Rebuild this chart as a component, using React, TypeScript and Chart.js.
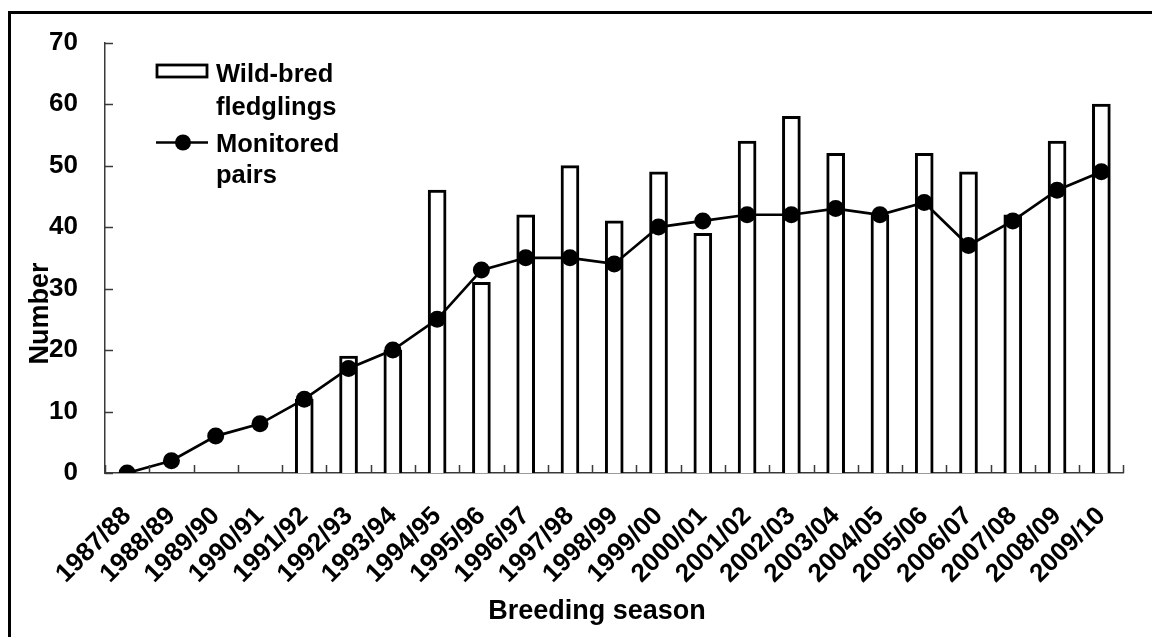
import React, { useEffect, useRef } from 'react';
import { Chart, registerables } from 'chart.js';

Chart.register(...registerables);

const seasons = [
  '1987/88', '1988/89', '1989/90', '1990/91', '1991/92', '1992/93', '1993/94', '1994/95',
  '1995/96', '1996/97', '1997/98', '1998/99', '1999/00', '2000/01', '2001/02', '2002/03',
  '2003/04', '2004/05', '2005/06', '2006/07', '2007/08', '2008/09', '2009/10',
];

const wildBredFledglings = [
  null, null, null, null, 12, 19, 20, 46, 31, 42, 50, 41, 49, 39, 54, 58, 52, 42, 52, 49, 42, 54, 60,
];

const monitoredPairs = [
  0, 2, 6, 8, 12, 17, 20, 25, 33, 35, 35, 34, 40, 41, 42, 42, 43, 42, 44, 37, 41, 46, 49,
];

const yMin = 0;
const yMax = 70;
const yStep = 10;

const xTitle = 'Breeding season';
const yTitle = 'Number';
const barLegendLines = ['Wild-bred', 'fledglings'];
const lineLegendLines = ['Monitored', 'pairs'];

const FONT = '"Liberation Sans", Arial, Helvetica, sans-serif';
const AXIS_COLOR = '#3a3a3a';

const decorPlugin = {
  id: 'decor',
  afterDraw(chart: any) {
    const ctx = chart.ctx as CanvasRenderingContext2D;
    const xs = chart.scales.x;
    const ys = chart.scales.y;
    const area = chart.chartArea;
    ctx.save();

    // inward tick marks
    ctx.strokeStyle = AXIS_COLOR;
    ctx.lineWidth = 1.5;
    ctx.beginPath();
    for (let v = yMin; v <= yMax; v += yStep) {
      const py = Math.round(ys.getPixelForValue(v)) + 0.5;
      ctx.moveTo(area.left, py);
      ctx.lineTo(area.left + 8, py);
    }
    const n = seasons.length;
    const half = (xs.getPixelForValue(1) - xs.getPixelForValue(0)) / 2;
    for (let i = 0; i <= n; i++) {
      const px = Math.round(xs.getPixelForValue(i) - half) + 0.5;
      ctx.moveTo(px, area.bottom);
      ctx.lineTo(px, area.bottom - 8);
    }
    ctx.stroke();

    // axis titles
    ctx.fillStyle = '#000';
    ctx.font = `bold 27px ${FONT}`;
    ctx.textAlign = 'center';
    ctx.textBaseline = 'alphabetic';
    ctx.fillText(xTitle, 597, 619);
    ctx.save();
    ctx.translate(47.5, 313.5);
    ctx.rotate(-Math.PI / 2);
    ctx.fillText(yTitle, 0, 0);
    ctx.restore();

    // legend
    ctx.strokeStyle = '#000';
    ctx.fillStyle = '#fff';
    ctx.lineWidth = 2.8;
    ctx.fillRect(157, 65, 50, 12);
    ctx.strokeRect(157, 65, 50, 12);
    ctx.lineWidth = 2.6;
    ctx.beginPath();
    ctx.moveTo(156, 142.5);
    ctx.lineTo(208, 142.5);
    ctx.stroke();
    ctx.fillStyle = '#000';
    ctx.beginPath();
    ctx.arc(183, 142.5, 8, 0, Math.PI * 2);
    ctx.fill();

    ctx.font = `bold 25.5px ${FONT}`;
    ctx.textAlign = 'left';
    ctx.fillText(barLegendLines[0], 216, 82);
    ctx.fillText(barLegendLines[1], 216, 115);
    ctx.fillText(lineLegendLines[0], 216, 152);
    ctx.fillText(lineLegendLines[1], 216, 183);
    ctx.restore();
  },
};

export default function App() {
  const canvasRef = useRef<HTMLCanvasElement | null>(null);

  useEffect(() => {
    if (!canvasRef.current) return;
    const chart = new Chart(canvasRef.current, {
      type: 'bar',
      data: {
        labels: seasons,
        datasets: [
          {
            type: 'line',
            label: 'Monitored pairs',
            data: monitoredPairs,
            borderColor: '#000',
            backgroundColor: '#000',
            borderWidth: 2.7,
            pointRadius: 8.5,
            pointBackgroundColor: '#000',
            pointBorderWidth: 0,
            tension: 0,
            order: 0,
          } as any,
          {
            type: 'bar',
            label: 'Wild-bred fledglings',
            data: wildBredFledglings,
            backgroundColor: '#fff',
            borderColor: '#000',
            borderWidth: 3,
            barThickness: 18,
            order: 1,
          } as any,
        ],
      },
      options: {
        animation: false,
        responsive: false,
        maintainAspectRatio: false,
        layout: { padding: { top: 39, right: 27, left: 0, bottom: 0 } },
        plugins: {
          legend: { display: false },
          tooltip: { enabled: false },
          title: { display: false },
        },
        scales: {
          x: {
            grid: { display: false, drawTicks: false },
            border: { display: true, color: AXIS_COLOR, width: 1.5 },
            ticks: {
              color: '#000',
              font: { family: FONT, size: 26, weight: 'bold' },
              minRotation: 45,
              maxRotation: 45,
              autoSkip: false,
              padding: 28,
            },
            afterFit: (scale: any) => {
              scale.height = 164;
            },
          },
          y: {
            min: yMin,
            max: yMax,
            grid: { display: false, drawTicks: false },
            border: { display: true, color: AXIS_COLOR, width: 1.5 },
            ticks: {
              stepSize: yStep,
              color: '#000',
              font: { family: FONT, size: 26, weight: 'bold' },
              padding: 27,
            },
            afterFit: (scale: any) => {
              scale.width = 105;
            },
          },
        },
      },
      plugins: [decorPlugin],
    });
    return () => chart.destroy();
  }, []);

  return (
    <div
      style={{
        position: 'fixed',
        left: 0,
        top: 0,
        width: 1152,
        height: 637,
        overflow: 'hidden',
        background: '#fff',
      }}
    >
      <div
        style={{
          position: 'absolute',
          left: 8,
          top: 11,
          width: 1300,
          height: 800,
          borderLeft: '3px solid #000',
          borderTop: '3px solid #000',
        }}
      />
      <canvas
        ref={canvasRef}
        width={1152}
        height={637}
        style={{ position: 'absolute', left: 0, top: 0, width: 1152, height: 637 }}
      />
    </div>
  );
}
